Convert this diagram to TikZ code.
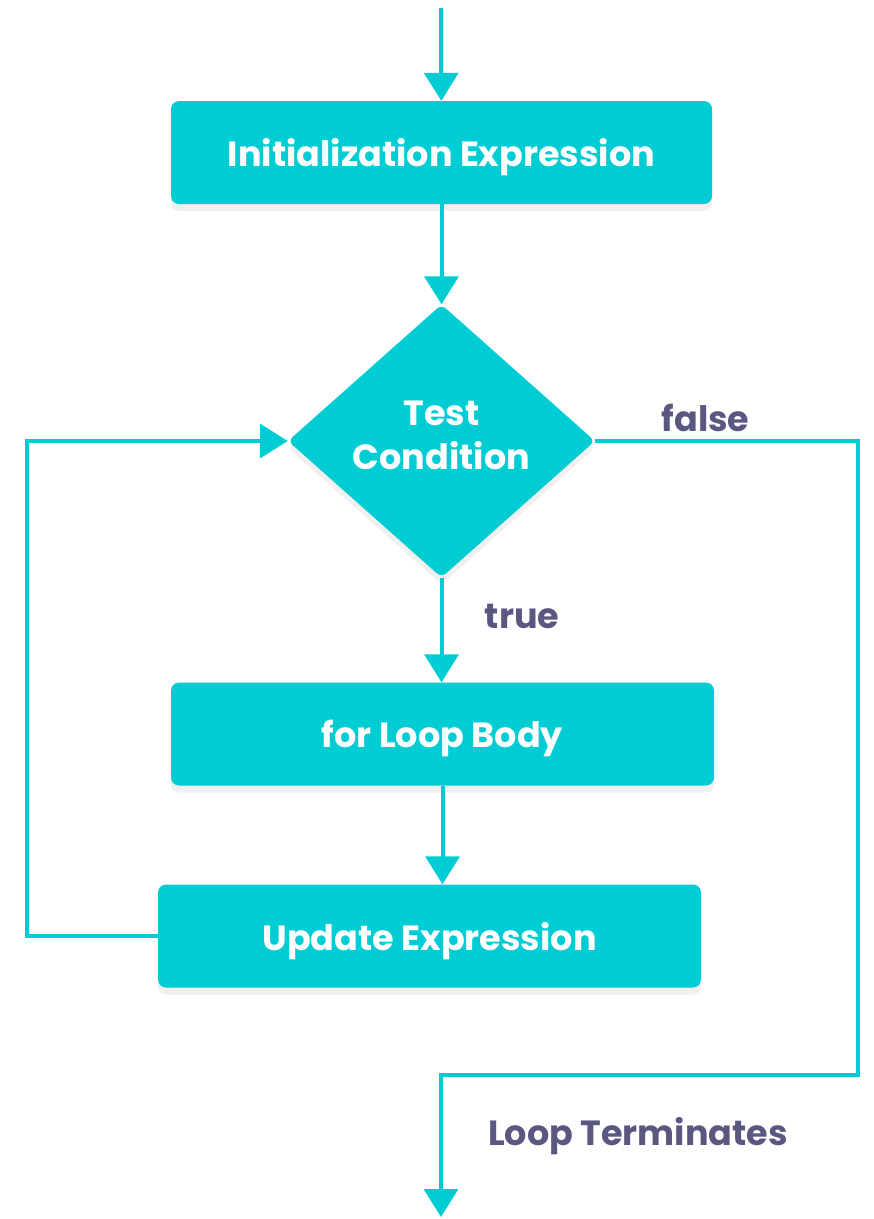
\documentclass[tikz,border=0pt]{standalone}
\usepackage{fontspec}
\setmainfont{Poppins}
\usetikzlibrary{shapes.geometric,arrows.meta,shadows}
\definecolor{teal}{RGB}{0,204,212}
\definecolor{label}{RGB}{90,87,128}
\tikzset{
  block/.style={fill=teal, rounded corners=8pt, minimum height=103pt, text=white,
    text depth=0pt, font=\fontsize{35}{40}\selectfont\bfseries,
    drop shadow={shadow xshift=0pt, shadow yshift=-7pt, opacity=.12}},
  decision/.style={diamond, fill=teal, rounded corners=6pt, inner sep=0pt,
    minimum width=307pt, minimum height=273pt, text=white, align=center,
    text depth=12pt, font=\fontsize{35}{44}\selectfont\bfseries,
    drop shadow={shadow xshift=0pt, shadow yshift=-7pt, opacity=.12}},
  flow/.style={draw=teal, line width=4pt},
  tag/.style={text=label, font=\fontsize{35}{40}\selectfont\bfseries}
}
\begin{document}
\begin{tikzpicture}[x=1pt,y=-1pt,>={Triangle[width=34pt,length=28pt]}]
\useasboundingbox (0,0) rectangle (874,1219);
% nodes
\node[block, minimum width=541pt] (init) at (441.5,152.5) {Initialization Expression};
\node[decision] (cond) at (441.5,441) {Test\\Condition};
\node[block, minimum width=543pt] (body) at (442.5,734) {for Loop Body};
\node[block, minimum width=543pt] (upd) at (429.5,936) {Update Expression};
\coordinate (start) at (441,8);
\coordinate (stop) at (441,1217);
\coordinate (back) at (27,936);
\coordinate (out) at (858,1075);
% connectors
\draw[flow,->] (start) -- (init);
\draw[flow,->] (init) -- (cond);
\draw[flow,->] (cond) -- node[tag, pos=.37, right=38pt]{true} (cond |- body.north);
\draw[flow,->] (body) -- (body |- upd.north);
\draw[flow,->] (upd.west) -- (back) |- (cond.west);
\draw[flow,->] (cond.east) -| node[tag, pos=.21, above=4pt]{false} (out) -- (out -| stop) -- (stop);
\node[tag] (term) at (638,1136) {Loop Terminates};
\end{tikzpicture}
\end{document}
